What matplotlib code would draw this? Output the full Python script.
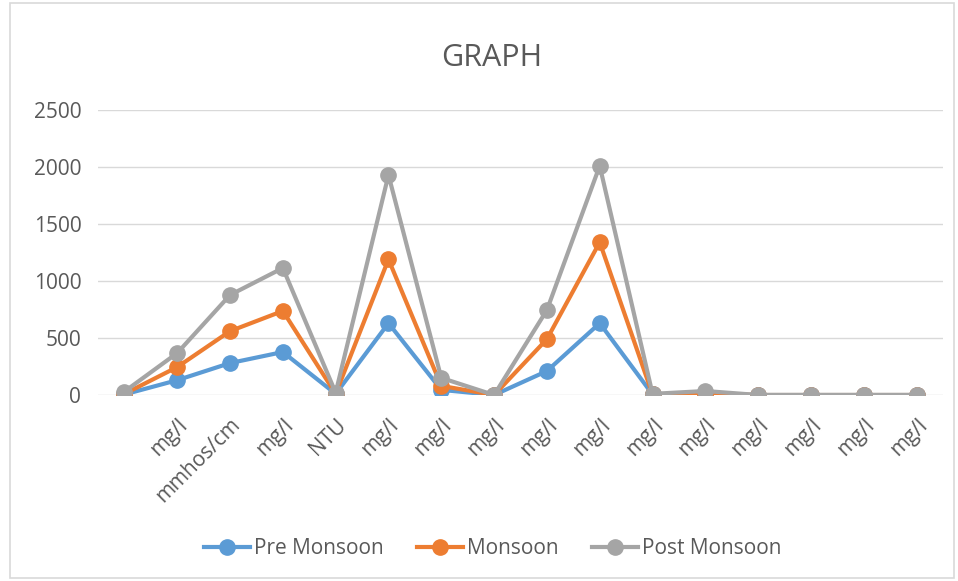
import numpy as np
import matplotlib.pyplot as plt
from matplotlib.patches import Rectangle

plt.rcParams['font.family'] = ['Open Sans', 'DejaVu Sans']

units = ['', 'mg/l', 'mmhos/cm', 'mg/l', 'NTU', 'mg/l', 'mg/l', 'mg/l',
         'mg/l', 'mg/l', 'mg/l', 'mg/l', 'mg/l', 'mg/l', 'mg/l', 'mg/l']
pre_monsoon = [5, 130, 280, 377, 10, 630, 45, 0, 210, 630, 5, 5, 0, 0, 0, 0]
monsoon = [10, 245, 560, 737, 10, 1190, 80, 0, 490, 1340, 5, 10, 0, 0, 0, 0]
post_monsoon = [30, 368, 877, 1114, 20, 1930, 150, 0, 745, 2010, 10, 35, 0, 0, 0, 0]

series = [('Pre Monsoon', pre_monsoon, '#5B9BD5'),
          ('Monsoon', monsoon, '#ED7D31'),
          ('Post Monsoon', post_monsoon, '#A5A5A5')]

W, H = 958, 581
fig = plt.figure(figsize=(W/100, H/100), dpi=100)
fig.patches.append(Rectangle((10/W, 3/H), 944/W, 575/H, transform=fig.transFigure,
                             fill=False, edgecolor='#D9D9D9', linewidth=1.2))

ax = fig.add_axes([98/W, 1-395/H, 845/W, 285/H])
x = np.arange(len(units))
for name, vals, col in series:
    ax.plot(x, vals, color=col, lw=3, marker='o', ms=11, label=name, zorder=3)

ax.set_xlim(-0.5, len(units)-0.5)
ax.set_ylim(0, 2500)
ax.set_yticks(np.arange(0, 2501, 500))
ax.yaxis.grid(True, color='#D9D9D9', lw=1)
ax.set_axisbelow(True)
for s in ax.spines.values():
    s.set_visible(False)
ax.tick_params(length=0, labelsize=15, colors='#595959', pad=12)
ax.set_xticks(x)
ax.set_xticklabels(units, rotation=45, ha='right', rotation_mode='anchor')
ax.tick_params(axis='x', pad=14)

fig.text(492/W, 1-58/H, 'GRAPH', ha='center', va='center', fontsize=22, color='#595959')
fig.legend(loc='center', bbox_to_anchor=(493/W, 1-549/H), ncol=3, frameon=False,
           fontsize=15, labelcolor='#595959', handlelength=2.2, columnspacing=1.6,
           handletextpad=0.2)

fig.savefig('out.png', dpi=100)
